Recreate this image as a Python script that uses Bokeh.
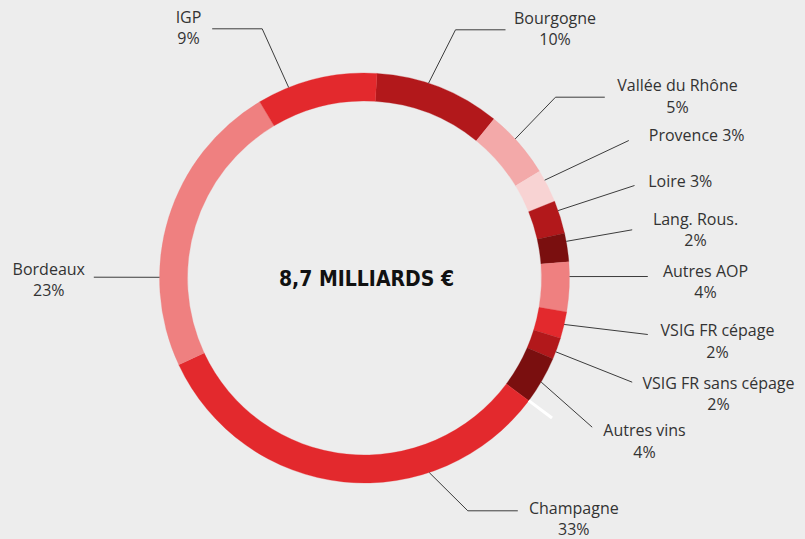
import math
from bokeh.plotting import figure
from bokeh.models import Range1d, ColumnDataSource
from bokeh.core.properties import value
from bokeh.embed import file_html
from bokeh.resources import INLINE

# ---------------- data ----------------
categories = ["Bourgogne", "Vallée du Rhône", "Provence", "Loire", "Lang. Rous.",
              "Autres AOP", "VSIG FR cépage", "VSIG FR sans cépage", "Autres vins",
              "Champagne", "Bordeaux", "IGP"]
shares = [9.9, 5.4, 2.6, 2.6, 2.25, 3.9, 2.1, 1.7, 3.75, 32.8, 23.4, 9.5]
pct_labels = ["10%", "5%", "3%", "3%", "2%", "4%", "2%", "2%", "4%", "33%", "23%", "9%"]
total_label = "8,7 MILLIARDS €"

# ---------------- style / layout ----------------
slice_colors = ["#b2181b", "#f3a9a9", "#f8d3d3", "#b2181b", "#7a0f0f",
                "#ef8080", "#e3292d", "#b2181b", "#7a0f0f",
                "#e3292d", "#ef8080", "#e3292d"]
BG = "#ededed"
TXT = "#333333"
LINE = "#3c3c3c"

CX, CY = 364, 277.5          # screen px
R_OUT, R_IN = 205, 177
START = 3.5                  # compass degrees (clockwise from 12 o'clock)
TXT_SHIFT = 7                # renderer places text this much lower than asked

# label anchor: x, baseline of first line (screen px), alignment, one-line?
label_pos = [(554.5, 24, "center", False), (677, 91.7, "center", False),
             (648.3, 141, "left", True), (647.7, 187.3, "left", True),
             (695, 225, "center", False), (705, 277.3, "center", False),
             (717, 336.7, "center", False), (718, 389.3, "center", False),
             (644, 436.7, "center", False), (573.3, 514, "center", False),
             (48.3, 275, "center", False), (188, 23.3, "center", False)]
LINE_GAP = 21.6

leader_angle = [18.2, 47.3, 61.5, 70.8, 79.7, 89.6, 103.1, 111.1, 120.5, 161.6, 270.2, 338.3]
leader_path = [[(455, 29.3), (505, 29.3)], [(555, 96.7), (604.3, 96.7)],
               [(628.3, 140)], [(634, 185)], [(631.7, 229.3)], [(647.3, 276)],
               [(647.3, 334)], [(631.7, 381.7)], [(591.7, 426.7)],
               [(467.3, 510.3), (517.3, 510.3)], [(93.3, 276.7)],
               [(261.7, 28.3), (211.7, 28.3)]]

W, H = 805, 539


def Y(sy):
    return H - sy


p = figure(width=W, height=H, x_range=Range1d(0, W), y_range=Range1d(0, H),
           output_backend="svg", toolbar_location=None, min_border=0)
p.axis.visible = False
p.grid.visible = False
p.outline_line_color = None
p.background_fill_color = BG
p.border_fill_color = BG

# ---------------- wedges ----------------
tot = sum(shares)
c0s, c1s = [], []
acc = START
for s in shares:
    c0s.append(acc)
    acc += s / tot * 360.0
    c1s.append(acc)

src = ColumnDataSource(dict(
    start=[math.radians(90 - c1) for c1 in c1s],
    end=[math.radians(90 - c0) for c0 in c0s],
    color=slice_colors,
))
p.annular_wedge(x=CX, y=Y(CY), inner_radius=R_IN, outer_radius=R_OUT,
                start_angle="start", end_angle="end", fill_color="color",
                line_color="color", line_width=0.3, source=src)

# white tick at the Autres vins / Champagne boundary
cb = c1s[8]
p.segment(x0=CX + R_OUT * math.sin(math.radians(cb)),
          y0=Y(CY - R_OUT * math.cos(math.radians(cb))),
          x1=CX + (R_OUT + 29) * math.sin(math.radians(cb)),
          y1=Y(CY - (R_OUT + 29) * math.cos(math.radians(cb))),
          line_color="white", line_width=3)

# ---------------- leader lines ----------------
xs, ys = [], []
for ang, path in zip(leader_angle, leader_path):
    a = math.radians(ang)
    px = [CX + R_OUT * math.sin(a)] + [pt[0] for pt in path]
    py = [Y(CY - R_OUT * math.cos(a))] + [Y(pt[1]) for pt in path]
    xs.append(px)
    ys.append(py)
p.multi_line(xs=xs, ys=ys, line_color=LINE, line_width=1)

# ---------------- labels ----------------
for name, pct, (lx, ly, al, one) in zip(categories, pct_labels, label_pos):
    ly = ly - TXT_SHIFT
    if one:
        p.text(x=[lx], y=[Y(ly)], text=[f"{name} {pct}"], text_align=al,
               text_baseline="alphabetic", text_font=value("Open Sans"),
               text_font_size="16px", text_color=TXT)
    else:
        p.text(x=[lx, lx], y=[Y(ly), Y(ly + LINE_GAP)], text=[name, pct], text_align=al,
               text_baseline="alphabetic", text_font=value("Open Sans"),
               text_font_size="16px", text_color=TXT)

p.text(x=[366], y=[Y(278.5)], text=[total_label], text_align="center",
       text_baseline="alphabetic",
       text_font=value("DejaVu Sans Condensed"),
       text_font_style="bold", text_font_size="21px", text_color="#111111")

html = file_html(p, INLINE)
html = html.replace("<head>", "<head><style>html,body{background:%s;}</style>" % BG, 1)
open("out.html", "w").write(html)
